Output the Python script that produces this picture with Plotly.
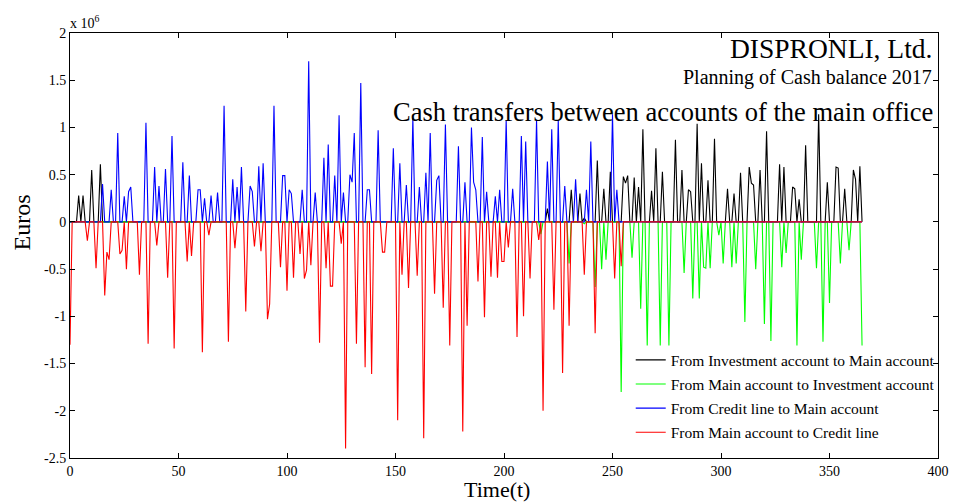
import numpy as np
import plotly.graph_objects as go

N_DAYS = 366  # t = 0 .. 365

# Values in millions of euros (day -> value)
inv_to_main_days = [4, 6, 10, 14, 220, 231, 235, 237, 243, 246, 249, 255, 256, 257, 260, 262, 264,
                    268, 270, 273, 279, 282, 285, 286, 289, 291, 294, 297, 303, 306, 309, 313, 314,
                    315, 318, 321, 327, 329, 333, 334, 336, 339, 345, 349, 353, 354, 357, 361, 362, 364]
inv_to_main_vals = [0.28, 0.28, 0.55, 0.61, 0.14, 0.34, 0.30, 0.04, 0.65, 0.35, 0.53, 0.48, 0.41, 0.49,
                    0.47, 0.37, 0.98, 0.33, 0.78, 0.53, 0.87, 0.55, 0.34, 0.32, 1.04, 0.62, 0.44, 0.88,
                    0.35, 0.30, 0.52, 0.58, 0.41, 0.39, 0.55, 0.96, 0.61, 0.58, 0.37, 0.35, 0.24, 0.81,
                    1.14, 0.42, 0.58, 0.57, 0.35, 0.55, 0.45, 0.59]

main_to_inv_days = [217, 230, 237, 242, 245, 247, 254, 259, 263, 266, 272, 276, 283, 287, 290, 292,
                    293, 295, 299, 301, 305, 307, 311, 316, 320, 323, 328, 330, 335, 337, 344, 347,
                    350, 355, 359, 365]
main_to_inv_vals = [-0.13, -0.44, -0.02, -0.69, -0.50, -0.40, -1.80, -0.38, -0.92, -1.31, -1.31, -1.31,
                    -0.54, -0.81, -0.81, -0.48, -0.49, -0.49, -0.14, -0.44, -0.48, -0.44, -1.06, -0.50,
                    -1.08, -1.26, -0.48, -0.33, -1.31, -0.40, -0.49, -1.27, -0.86, -0.44, -0.30, -1.31]

credit_to_main_days = [15, 19, 22, 25, 27, 28, 35, 39, 41, 44, 47, 52, 55, 59, 60, 62, 65, 68, 71, 75,
                       77, 79, 83, 84, 87, 89, 94, 98, 99, 101, 102, 107, 110, 113, 117, 119, 122, 124,
                       126, 129, 130, 131, 134, 137, 138, 142, 149, 152, 155, 158, 161, 164, 166, 169,
                       170, 173, 179, 182, 185, 186, 187, 190, 192, 196, 198, 201, 204, 208, 210, 215,
                       220, 222, 225, 228, 233, 238, 240, 250, 252]
credit_to_main_vals = [0.40, 0.34, 0.94, 0.27, 0.32, 0.37, 1.05, 0.58, 0.38, 0.56, 0.91, 0.63, 0.49,
                       0.34, 0.34, 0.25, 0.28, 0.31, 1.23, 0.45, 0.37, 0.58, 0.38, 0.32, 0.59, 0.62,
                       1.23, 0.49, 0.49, 0.34, 0.30, 0.34, 1.70, 0.31, 0.68, 0.82, 0.49, 1.13, 0.31,
                       0.50, 0.42, 0.94, 1.47, 0.34, 0.34, 0.97, 0.78, 0.62, 0.39, 1.10, 0.37, 0.52,
                       0.94, 0.44, 0.49, 1.03, 0.80, 0.42, 1.00, 0.42, 0.34, 0.90, 0.32, 0.27, 0.34,
                       1.08, 0.35, 0.91, 0.85, 1.08, 0.64, 0.98, 1.08, 0.38, 0.45, 0.34, 0.85, 1.14, 0.34]

main_to_credit_days = [0, 8, 12, 16, 17, 18, 23, 24, 26, 32, 36, 40, 45, 48, 54, 56, 61, 64, 73, 76,
                       81, 85, 88, 91, 92, 97, 100, 103, 106, 108, 109, 111, 115, 118, 120, 121, 125,
                       127, 132, 136, 139, 144, 145, 151, 153, 156, 160, 163, 168, 172, 175, 181, 183,
                       188, 191, 194, 197, 199, 200, 202, 206, 209, 212, 216, 218, 223, 227, 230, 237,
                       242, 251, 254]
main_to_credit_vals = [-1.30, -0.20, -0.49, -0.78, -0.32, -0.40, -0.34, -0.30, -0.50, -0.56, -1.29,
                       -0.25, -0.59, -1.34, -0.42, -0.36, -1.38, -0.14, -1.27, -0.28, -0.95, -0.26,
                       -0.31, -1.03, -0.87, -0.48, -0.73, -0.59, -0.34, -0.60, -0.51, -0.46, -1.28,
                       -0.49, -0.68, -0.68, -0.23, -2.40, -1.29, -1.54, -1.61, -0.32, -0.32, -2.10,
                       -0.56, -0.70, -0.57, -2.29, -0.76, -0.91, -1.31, -2.22, -1.10, -0.63, -1.01,
                       -0.58, -0.59, -0.42, -0.42, -0.27, -1.22, -1.00, -0.60, -0.19, -2.00, -0.93,
                       -1.60, -1.10, -0.56, -1.18, -0.60, -0.47]

x_tick_vals = [0, 50, 100, 150, 200, 250, 300, 350, 400]
y_tick_vals = [2, 1.5, 1, 0.5, 0, -0.5, -1, -1.5, -2, -2.5]
y_tick_text = ["2", "1.5", "1", "0.5", "0", "-0.5", "-1", "-1.5", "-2", "-2.5"]

series_names = ["From Investment account to Main account",
                "From Main account to Investment account",
                "From Credit line to Main account",
                "From Main account to Credit line"]
series_colors = ["#000000", "#00ff00", "#0000ff", "#ff0000"]

days = np.arange(N_DAYS)


def daily(d, v):
    arr = np.zeros(N_DAYS)
    arr[np.array(d)] = np.array(v)
    return arr


series = [daily(inv_to_main_days, inv_to_main_vals),
          daily(main_to_inv_days, main_to_inv_vals),
          daily(credit_to_main_days, credit_to_main_vals),
          daily(main_to_credit_days, main_to_credit_vals)]

FONT = "Liberation Serif, Times New Roman, serif"

fig = go.Figure()
for i, (name, col, y) in enumerate(zip(series_names, series_colors, series)):
    fig.add_trace(go.Scatter(x=days, y=y, mode="lines", name=name,
                             line=dict(color=col, width=1.1), legendgroup=str(i)))

axis_common = dict(showline=True, linecolor="black", linewidth=1, mirror="ticks",
                   ticks="inside", ticklen=5, tickcolor="black", showgrid=False,
                   zeroline=False, tickfont=dict(family=FONT, size=14, color="black"))

fig.update_layout(
    width=961, height=503,
    margin=dict(l=70, r=14, t=33, b=45),
    paper_bgcolor="white", plot_bgcolor="white",
    showlegend=True,
    legend=dict(x=0.646, y=0.27, xanchor="left", yanchor="top",
                bgcolor="rgba(0,0,0,0)", font=dict(family=FONT, size=15.5, color="black"),
                tracegroupgap=1, itemwidth=30),
    xaxis=dict(range=[0, 400], tickvals=x_tick_vals, **axis_common),
    yaxis=dict(range=[-2.5, 2], tickvals=y_tick_vals, ticktext=y_tick_text, **axis_common),
)

annotations = [
    dict(text="x 10<sup>6</sup>", x=-0.002, y=1.0, xref="paper", yref="paper", xanchor="left",
         yanchor="bottom", showarrow=False, font=dict(family=FONT, size=14, color="black")),
    dict(text="DISPRONLI, Ltd.", x=0.995, y=0.963, xref="paper", yref="paper", xanchor="right",
         yanchor="middle", showarrow=False, font=dict(family=FONT, size=27.5, color="black")),
    dict(text="Planning of Cash balance 2017", x=0.995, y=0.896, xref="paper", yref="paper",
         xanchor="right", yanchor="middle", showarrow=False,
         font=dict(family=FONT, size=20, color="black")),
    dict(text="Cash transfers between accounts of the main office", x=0.996, y=0.814,
         xref="paper", yref="paper", xanchor="right", yanchor="middle", showarrow=False,
         font=dict(family=FONT, size=26.5, color="black")),
    dict(text="Euros", x=-0.055, y=0.555, xref="paper", yref="paper", textangle=-90,
         xanchor="center", yanchor="middle", showarrow=False,
         font=dict(family=FONT, size=24, color="black")),
    dict(text="Time(t)", x=0.492, y=-0.107, xref="paper", yref="paper", xanchor="center",
         yanchor="bottom", showarrow=False, font=dict(family=FONT, size=22, color="black"),
         borderpad=0),
]
fig.update_layout(annotations=annotations)

fig.write_html("out.html")
